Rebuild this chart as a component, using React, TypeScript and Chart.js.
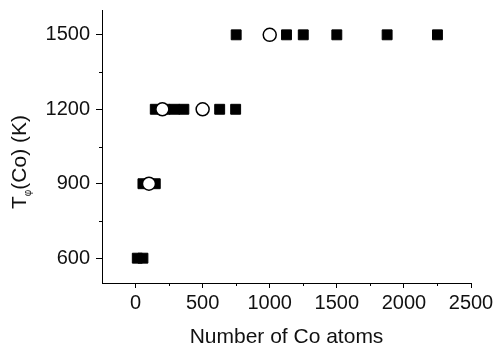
import React, { useEffect, useRef } from 'react';
import { Chart, registerables } from 'chart.js';
Chart.register(...registerables);

const squareX = [13, 55, 55, 147, 147, 220, 290, 360, 627, 746, 750, 1125, 1250, 1500, 1875, 2250];
const squareY = [600, 600, 900, 900, 1200, 1200, 1200, 1200, 1200, 1200, 1500, 1500, 1500, 1500, 1500, 1500];
const circleX = [100, 200, 500, 1000];
const circleY = [900, 1200, 1200, 1500];
const xTicks = [0, 500, 1000, 1500, 2000, 2500];
const xMinor = [250, 750, 1250, 1750, 2250];
const yTicks = [600, 900, 1200, 1500];
const yMinor = [750, 1050, 1350];
const xTitle = 'Number of Co atoms';
const yTitleMain = 'T';
const yTitleSub = 'φ';
const yTitleRest = '(Co) (K)';

const FONT = "'Liberation Sans', Arial, sans-serif";
const TEXT = '#111';

const extras = {
  id: 'extras',
  afterDraw(chart: any) {
    const ctx = chart.ctx;
    const xs = chart.scales.x;
    const ys = chart.scales.y;
    const area = chart.chartArea;
    ctx.save();
    ctx.strokeStyle = '#000';
    ctx.lineWidth = 1;
    ctx.beginPath();
    xMinor.forEach((v) => {
      const px = Math.round(xs.getPixelForValue(v)) + 0.5;
      ctx.moveTo(px, area.bottom);
      ctx.lineTo(px, area.bottom + 3);
    });
    yMinor.forEach((v) => {
      const py = Math.round(ys.getPixelForValue(v)) + 0.5;
      ctx.moveTo(area.left - 3, py);
      ctx.lineTo(area.left, py);
    });
    ctx.stroke();

    // y title with subscript
    ctx.translate(20, 162);
    ctx.rotate(-Math.PI / 2);
    ctx.fillStyle = TEXT;
    ctx.textBaseline = 'middle';
    ctx.textAlign = 'left';
    const big = `21px ${FONT}`;
    const small = `10px ${FONT}`;
    ctx.font = big;
    const w1 = ctx.measureText(yTitleMain).width;
    const w3 = ctx.measureText(yTitleRest).width;
    ctx.font = small;
    const w2 = ctx.measureText(yTitleSub).width;
    let x0 = -(w1 + w2 + w3) / 2;
    ctx.font = big;
    ctx.fillText(yTitleMain, x0, 0);
    x0 += w1;
    ctx.font = small;
    ctx.fillText(yTitleSub, x0, 8);
    x0 += w2;
    ctx.font = big;
    ctx.fillText(yTitleRest, x0, 0);
    ctx.restore();
  },
};

export default function App() {
  const ref = useRef<HTMLCanvasElement>(null);
  useEffect(() => {
    document.body.style.margin = '0';
    const chart = new Chart(ref.current as HTMLCanvasElement, {
      type: 'scatter',
      data: {
        datasets: [
          {
            label: 'circles',
            data: circleX.map((x, i) => ({ x, y: circleY[i] })),
            pointStyle: 'circle',
            pointRadius: 6.5,
            pointBorderWidth: 1.5,
            pointBackgroundColor: '#fff',
            pointBorderColor: '#000',
          },
          {
            label: 'squares',
            data: squareX.map((x, i) => ({ x, y: squareY[i] })),
            pointStyle: 'rect',
            pointRadius: 7,
            pointBorderWidth: 1,
            pointBackgroundColor: '#000',
            pointBorderColor: '#000',
          },
        ],
      },
      options: {
        animation: false,
        responsive: false,
        layout: { padding: { top: 10, right: 26, left: 0, bottom: 0 } },
        plugins: { legend: { display: false }, tooltip: { enabled: false } },
        scales: {
          x: {
            type: 'linear',
            min: -250,
            max: 2500,
            afterBuildTicks: (a: any) => {
              a.ticks = xTicks.map((v) => ({ value: v }));
            },
            afterFit: (s: any) => {
              s.height = 65;
              s.paddingLeft = 0;
              s.paddingRight = 0;
            },
            ticks: {
              font: { family: FONT, size: 20 },
              color: TEXT,
              padding: 3,
              maxRotation: 0,
              autoSkip: false,
              callback: (v: any) => String(v),
            },
            grid: { display: true, drawOnChartArea: false, drawTicks: true, tickLength: 5, color: '#000' },
            border: { display: true, color: '#000', width: 1 },
            title: {
              display: true,
              text: xTitle,
              font: { family: FONT, size: 21 },
              color: TEXT,
              padding: { top: 2, bottom: -2 },
            },
          },
          y: {
            type: 'linear',
            min: 500,
            max: 1600,
            afterBuildTicks: (a: any) => {
              a.ticks = yTicks.map((v) => ({ value: v }));
            },
            afterFit: (s: any) => {
              s.width = 102;
              s.paddingTop = 0;
              s.paddingBottom = 0;
            },
            ticks: {
              font: { family: FONT, size: 20 },
              color: TEXT,
              padding: 6,
              autoSkip: false,
              callback: (v: any) => String(v),
            },
            grid: { display: true, drawOnChartArea: false, drawTicks: true, tickLength: 6, color: '#000' },
            border: { display: true, color: '#000', width: 1 },
          },
        },
      },
      plugins: [extras],
    });
    return () => chart.destroy();
  }, []);
  return (
    <div style={{ width: 497, height: 348 }}>
      <canvas ref={ref} width={497} height={348} />
    </div>
  );
}
